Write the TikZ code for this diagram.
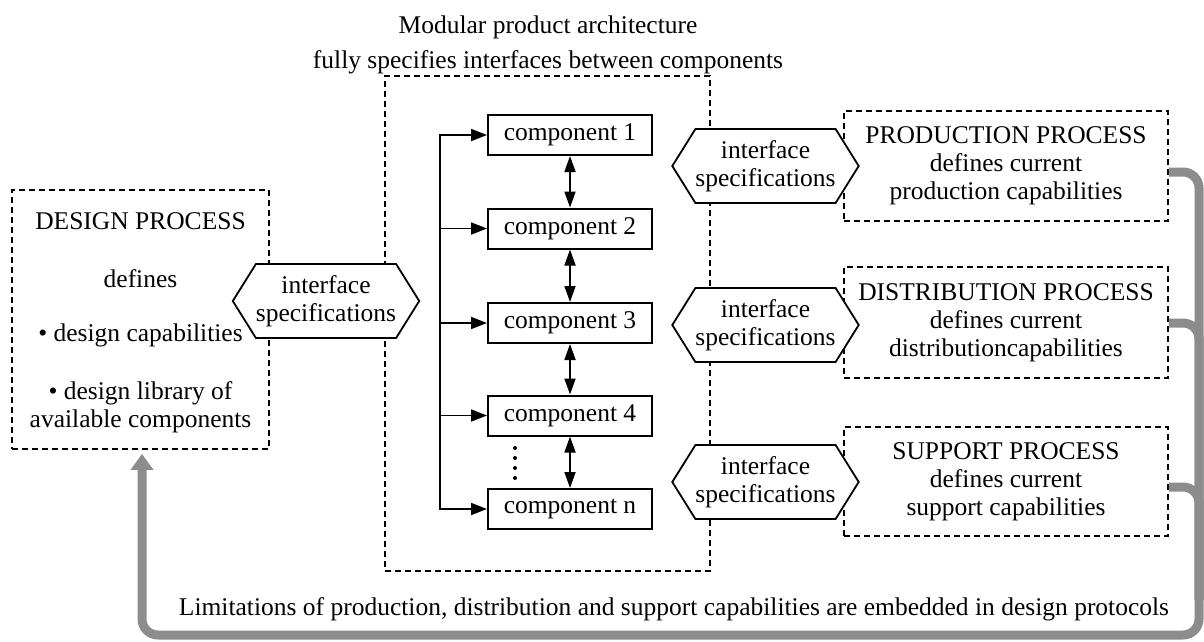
\documentclass[tikz,border=0pt]{standalone}
\usepackage{fontspec}
\setmainfont{Liberation Serif}
\usetikzlibrary{arrows.meta,shapes.symbols,calc}
\begin{document}
\begin{tikzpicture}[x=1pt,y=-1pt,
  txt/.style={font=\fontsize{25.5}{28}\selectfont, align=center, inner sep=0pt},
  dbox/.style={draw, line width=1.8pt, dash pattern=on 6pt off 4pt, inner sep=0pt, align=center, font=\fontsize{25.5}{28}\selectfont},
  comp/.style={draw, line width=2pt, fill=white, minimum width=164pt, minimum height=40pt, inner sep=0pt, font=\fontsize{25.5}{28}\selectfont},
  hexa/.style={draw, line width=1.8pt, fill=white, signal, signal to=west and east, signal pointer angle=116, minimum width=183pt, minimum height=74pt, inner sep=0pt, align=center, font=\fontsize{25.5}{28}\selectfont},
  flow/.style={line width=1.8pt, -{Triangle[length=16pt,width=12pt]}},
  dbl/.style={line width=1.8pt, {Triangle[length=16pt,width=11pt]}-{Triangle[length=16pt,width=11pt]}},
  greyline/.style={draw=black!45, line width=9pt, rounded corners=16pt},
]
\useasboundingbox (0,0) rectangle (1204,641);

% title
\node[txt] (title) at (548,44.5) {Modular product architecture\\[7pt]fully specifies interfaces between components};

% dashed boxes
\node[dbox, minimum width=257pt, minimum height=259pt] (dsg) at (140.5,319.5) {};
\node[txt] (dsgtxt) at (140.5,323) {DESIGN PROCESS\\[30pt]defines\\[26pt]\textbullet\ design capabilities\\[30pt]\textbullet\ design library of\\available components};
\node[dbox, minimum width=325pt, minimum height=495pt] (mod) at (547.5,323.5) {};
\node[dbox, minimum width=324pt, minimum height=110pt] (prod) at (1006,166) {PRODUCTION PROCESS\\defines current\\production capabilities};
\node[dbox, minimum width=324pt, minimum height=111pt] (dist) at (1006,322.5) {DISTRIBUTION PROCESS\\defines current\\distributioncapabilities};
\node[dbox, minimum width=324pt, minimum height=109pt] (supp) at (1006,481.5) {SUPPORT PROCESS\\defines current\\support capabilities};

% hexagons
\node[hexa] (h0) at (326,301) {interface\\specifications};
\node[hexa] (h1) at (765.5,166) {interface\\specifications};
\node[hexa] (h2) at (765.5,325) {interface\\specifications};
\node[hexa] (h3) at (765.5,482) {interface\\specifications};

% components
\node[comp] (c1) at (570,135) {component 1};
\node[comp] (c2) at (570,228.5) {component 2};
\node[comp] (c3) at (570,323) {component 3};
\node[comp] (c4) at (570,415.5) {component 4};
\node[comp] (cn) at (570,509) {component n};

\coordinate (busx) at (440,0);
\draw[line width=1.8pt, {Triangle[length=16pt,width=12pt]}-{Triangle[length=16pt,width=12pt]}] (c1.west) -| (cn.west -| busx) -- (cn.west);
\draw[flow] (c2.west -| busx) -- (c2.west);
\draw[flow] (c3.west -| busx) -- (c3.west);
\draw[flow] (c4.west -| busx) -- (c4.west);

\draw[dbl] (c1.south) -- (c2.north);
\draw[dbl] (c2.south) -- (c3.north);
\draw[dbl] (c3.south) -- (c4.north);
\draw[dbl] (c4.south) -- (cn.north);

\foreach \yy in {448,458,468,478} \fill (515,\yy) circle (2pt);

% bottom text
\node[txt] (limit) at (674,609) {Limitations of production, distribution and support capabilities are embedded in design protocols};

% grey feedback
\coordinate (corner) at (1199,635);
\coordinate (mid) at (1199,600);
\draw[greyline, -{Triangle[length=16pt,width=22pt]}] ($(prod.east)+(0,6)$) -| (corner) -| ($(dsg.south)+(1.5,4)$);
\draw[greyline] ($(dist.east)+(0,0.5)$) -| (mid);
\draw[greyline] ($(supp.east)+(0,5.5)$) -| (mid);
\end{tikzpicture}
\end{document}
